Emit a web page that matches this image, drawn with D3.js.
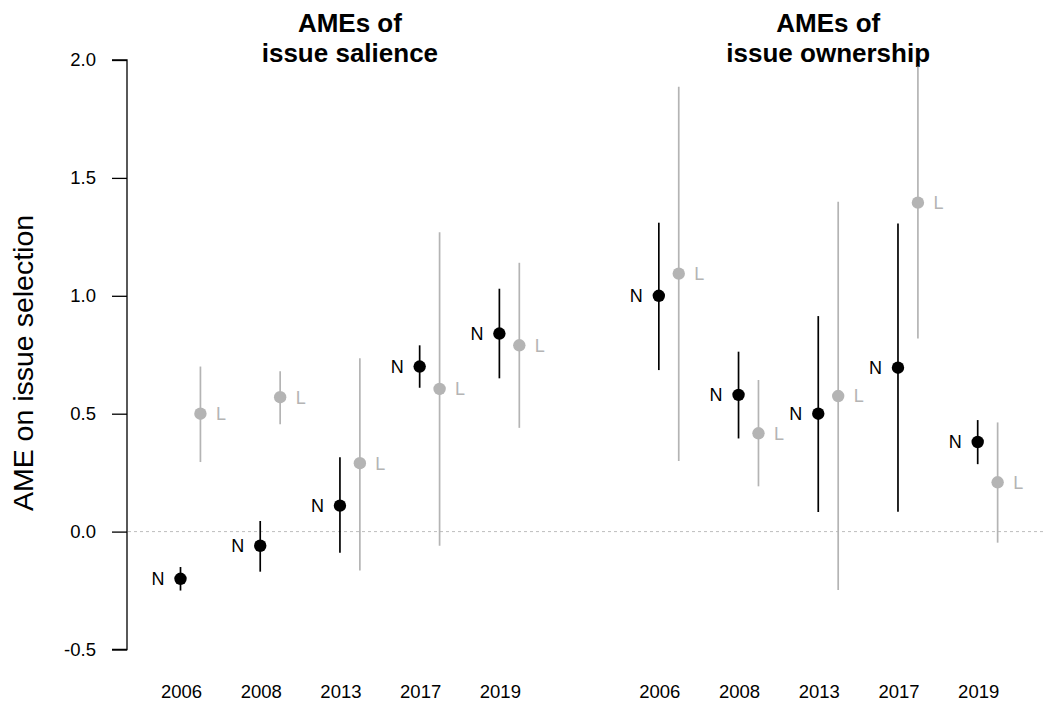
<!DOCTYPE html>
<html>
<head>
<meta charset="utf-8">
<script src="https://cdn.jsdelivr.net/npm/d3@7"></script>
<style>
  body { margin: 0; background: #fff; }
  svg { font-family: "Liberation Sans", Arial, sans-serif; }
</style>
</head>
<body>
<div id="chart"></div>
<script>
// years shown under each panel
var years = ["2006", "2008", "2013", "2017", "2019"];
var panelTitles = [["AMEs of", "issue salience"], ["AMEs of", "issue ownership"]];
var yTicks = [-0.5, 0.0, 0.5, 1.0, 1.5, 2.0];

// issue salience: N (black) and L (grey) estimates with intervals
var salienceN   = [-0.20, -0.06, 0.11, 0.70, 0.84];
var salienceNlo = [-0.25, -0.17, -0.09, 0.61, 0.65];
var salienceNhi = [-0.15, 0.045, 0.315, 0.79, 1.03];
var salienceL   = [0.50, 0.57, 0.29, 0.605, 0.79];
var salienceLlo = [0.295, 0.455, -0.165, -0.06, 0.44];
var salienceLhi = [0.70, 0.68, 0.735, 1.27, 1.14];

// issue ownership
var ownershipN   = [1.00, 0.58, 0.50, 0.695, 0.38];
var ownershipNlo = [0.685, 0.395, 0.083, 0.084, 0.286];
var ownershipNhi = [1.31, 0.763, 0.914, 1.307, 0.473];
var ownershipL   = [1.094, 0.417, 0.575, 1.395, 0.209];
var ownershipLlo = [0.299, 0.192, -0.248, 0.819, -0.047];
var ownershipLhi = [1.887, 0.643, 1.399, 1.972, 0.463];

var width = 1043, height = 706;
var grey = "#b4b4b4";

var svg = d3.select("#chart").append("svg")
    .attr("width", width).attr("height", height);

// index positions: salience 0..4, ownership 6..10, L offset by 0.25
var xScale = d3.scaleLinear().domain([0, 10]).range([180.5, 977.7]);
var yScale = d3.scaleLinear().domain([-0.5, 2.0]).range([649.5, 60]);

// build rows from the arrays
var rows = [];
function addRows(vals, lo, hi, offset, group, shift) {
  vals.forEach(function(v, i) {
    rows.push({ pos: i + offset + shift, val: v, lo: lo[i], hi: hi[i], group: group });
  });
}
addRows(salienceN, salienceNlo, salienceNhi, 0, "N", 0);
addRows(salienceL, salienceLlo, salienceLhi, 0, "L", 0.25);
addRows(ownershipN, ownershipNlo, ownershipNhi, 6, "N", 0);
addRows(ownershipL, ownershipLlo, ownershipLhi, 6, "L", 0.25);

// y axis (plain hyphen for negatives, like the original)
var yAxisCall = d3.axisLeft(yScale).tickValues(yTicks)
    .tickFormat(function(e) { return e.toFixed(1); })
    .tickSize(15).tickPadding(16);
var yg = svg.append("g").attr("class", "y axis")
    .attr("transform", "translate(127,0)").call(yAxisCall);
yg.select(".domain").attr("d", "M-15," + yScale(-0.5) + "H0V" + yScale(2.0) + "H-15")
    .attr("stroke", "#000").attr("stroke-width", 1.3).attr("fill", "none");
yg.selectAll(".tick line").attr("stroke", "#000").attr("stroke-width", 1.3);
yg.selectAll(".tick text").style("font-size", "18.5px").attr("fill", "#000")
    .style("font-family", "Liberation Sans, Arial, sans-serif");

// zero reference line
svg.append("line")
    .attr("x1", 128).attr("x2", width)
    .attr("y1", yScale(0)).attr("y2", yScale(0))
    .attr("stroke", "#bdbdbd").attr("stroke-width", 1)
    .attr("stroke-dasharray", "3,3");

// y label
svg.append("text")
    .attr("transform", "translate(33,363) rotate(-90)")
    .attr("text-anchor", "middle")
    .style("font-size", "28.5px")
    .text("AME on issue selection");

// year labels
[0, 6].forEach(function(off) {
  years.forEach(function(y, i) {
    svg.append("text")
        .attr("x", xScale(i + off) + 1).attr("y", 698)
        .attr("text-anchor", "middle")
        .style("font-size", "18.5px")
        .text(y);
  });
});

// panel titles
panelTitles.forEach(function(t, k) {
  var cx = (xScale(k * 6) + xScale(k * 6 + 4.25)) / 2;
  t.forEach(function(line, j) {
    svg.append("text")
        .attr("x", cx).attr("y", 31.5 + j * 30.5)
        .attr("text-anchor", "middle")
        .style("font-size", "26px")
        .attr("font-weight", "bold")
        .text(line);
  });
});

// interval lines
svg.selectAll(".ci").data(rows).enter().append("line")
    .attr("class", "ci")
    .attr("x1", function(d) { return xScale(d.pos); })
    .attr("x2", function(d) { return xScale(d.pos); })
    .attr("y1", function(d) { return yScale(d.lo); })
    .attr("y2", function(d) { return yScale(d.hi); })
    .attr("stroke", function(d) { return d.group == "N" ? "#000" : grey; })
    .attr("stroke-width", 1.7);

// points
svg.selectAll(".pt").data(rows).enter().append("circle")
    .attr("class", "pt")
    .attr("cx", function(d) { return xScale(d.pos); })
    .attr("cy", function(d) { return yScale(d.val); })
    .attr("r", 6.2)
    .attr("fill", function(d) { return d.group == "N" ? "#000" : grey; });

// N / L labels
svg.selectAll(".lab").data(rows).enter().append("text")
    .attr("class", "lab")
    .attr("x", function(d) { return xScale(d.pos) + (d.group == "N" ? -16 : 15.5); })
    .attr("y", function(d) { return yScale(d.val); })
    .attr("dy", "0.36em")
    .attr("text-anchor", function(d) { return d.group == "N" ? "end" : "start"; })
    .style("font-size", "18px")
    .attr("fill", function(d) { return d.group == "N" ? "#000" : grey; })
    .text(function(d) { return d.group; });
</script>
</body>
</html>
